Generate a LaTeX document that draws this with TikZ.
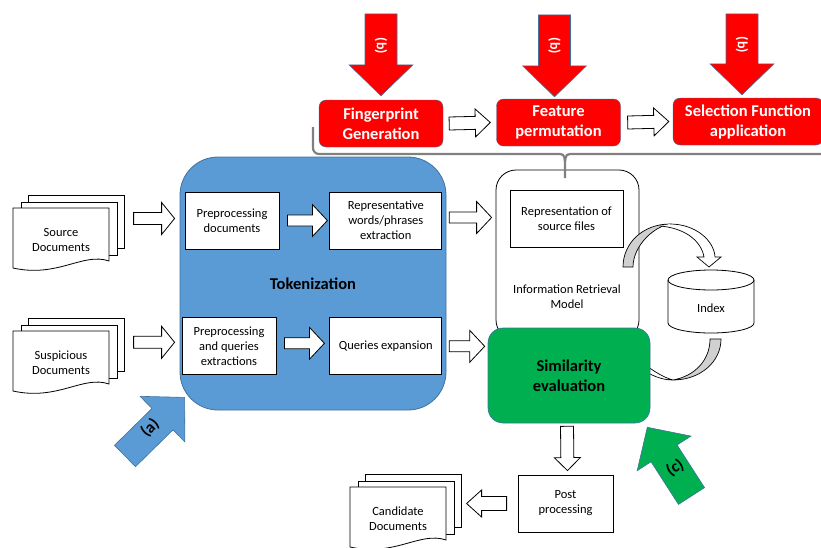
\documentclass[tikz,border=0pt]{standalone}
\usepackage{fontspec}
\setmainfont{Carlito}
\usepackage{tikz}
\usetikzlibrary{positioning,calc}
\definecolor{tokblue}{RGB}{91,155,213}
\definecolor{edgeblue}{RGB}{65,113,156}
\definecolor{simgreen}{RGB}{0,176,80}
\definecolor{ribbongray}{RGB}{208,208,208}
\definecolor{bracegray}{RGB}{128,128,128}
\newcommand{\txt}{\fontsize{12.5}{15}\selectfont}
\newcommand{\bigtxt}{\bfseries\fontsize{16.5}{20}\selectfont}
% block arrow: [style]{from}{to}{shaft half width}{head half width}{head length}
\newcommand{\barrow}[6][blkar]{%
  \coordinate (ba) at #2; \coordinate (bb) at #3;
  \coordinate (bh) at ($(bb)!#6!(ba)$);
  \draw[#1] ($(ba)!#4!90:(bb)$) -- ($(bh)!#4!90:(bb)$) -- ($(bh)!#5!90:(bb)$) -- (bb)
    -- ($(bh)!#5!-90:(bb)$) -- ($(bh)!#4!-90:(bb)$) -- ($(ba)!#4!-90:(bb)$) -- cycle;}
% stack of three pages with a label: {name}{(centre)}{text}
\newcommand{\docstack}[3]{%
  \begin{scope}[shift={#2}]
    \draw[page] (-33,-45) rectangle (63,8);
    \draw[page] (-40,-38) rectangle (56,15);
    \draw[page] (-48,-32) -- (48,-32) -- (48,21) .. controls (22,12) and (-3,38) .. (-48,28) -- cycle;
  \end{scope}
  \node[doctext] (#1) at #2 {#3};}
\tikzset{
  redbox/.style ={draw=edgeblue,fill=red,rounded corners=7pt,text=white,font=\bigtxt,align=center,minimum height=47pt,inner sep=2pt},
  wbox/.style   ={draw,fill=white,align=center,font=\txt,minimum height=57pt,inner sep=2pt,line width=0.8pt},
  page/.style   ={draw,fill=white,line width=0.8pt},
  doctext/.style={align=center,font=\txt},
  blkar/.style  ={draw,fill=white,line width=0.8pt},
  bigar/.style  ={draw=edgeblue,line width=0.6pt},
  ribbon/.style ={draw,line width=0.7pt},
  curlybrace/.style={draw=bracegray,line width=2.2pt},
  blab/.style   ={font=\bfseries\fontsize{14}{16}\selectfont,text=white,rotate=-90},
}
\begin{document}
\begin{tikzpicture}[x=1pt,y=-1pt]
\useasboundingbox (0,0) rectangle (821,547);
% red pipeline
\node[redbox,minimum width=124pt] (fpg) at (381,123.5) {Fingerprint\\Generation};
\node[redbox,minimum width=124pt] (fpm) at (558.5,122.5) {Feature\\permutation};
\node[redbox,minimum width=150pt] (sel) at (748,121.5) {Selection Function\\application};
\barrow[bigar,fill=red]{($(fpg.north)+(0,-86)$)}{($(fpg.north)+(0,-4)$)}{16pt}{32pt}{31pt}
\barrow[bigar,fill=red]{($(fpm.north)+(-4,-84)$)}{($(fpm.north)+(-4,-2)$)}{16pt}{32pt}{31pt}
\barrow[bigar,fill=red]{($(sel.north)+(-6,-84)$)}{($(sel.north)+(-6,-3)$)}{16pt}{32pt}{31pt}
\node[blab] (bfpg) at ($(fpg.north)+(0,-54)$) {(b)};
\node[blab] (bfpm) at ($(fpm.north)+(-4,-53)$) {(b)};
\node[blab] (bsel) at ($(sel.north)+(-6,-53)$) {(b)};
\barrow{($(fpg.east)+(6,0)$)}{($(fpm.west)+(-6,0)$)}{6.5pt}{14pt}{15pt}
\barrow{($(fpm.east)+(7,0)$)}{($(sel.west)+(-4,0)$)}{6.5pt}{14pt}{15pt}

% tokenization
\node[draw=edgeblue,fill=tokblue,rounded corners=38pt,minimum width=266pt,minimum height=253pt,font=\bigtxt,line width=0.8pt] (tok) at (313,283.5) {Tokenization};
\node[wbox,minimum width=94pt] (pdoc) at (232,220.5) {Preprocessing\\documents};
\node[wbox,minimum width=112pt,right=50pt of pdoc] (repr) {Representative\\words/phrases\\extraction};
\node[wbox,minimum width=112pt,below=68pt of repr] (qexp) {Queries expansion};
\node[wbox,minimum width=94pt,left=53pt of qexp] (pque) {Preprocessing\\and queries\\extractions};
\barrow{($(pdoc.east)+(8,0)$)}{($(repr.west)+(-2,0)$)}{5.5pt}{16pt}{15pt}
\barrow{($(pque.east)+(8,-3)$)}{($(qexp.west)+(-5,-3)$)}{5.5pt}{16pt}{15pt}

% documents
\docstack{srcdoc}{(61,240)}{Source\\Documents}
\docstack{susdoc}{(61,363)}{Suspicious\\Documents}
\docstack{canddoc}{(398,519)}{Candidate\\Documents}
\barrow{($(tok.west |- pdoc)+(-46,-2)$)}{($(tok.west |- pdoc)+(-5,-2)$)}{6pt}{16pt}{13pt}
\barrow{($(tok.west |- pque)+(-46,-4)$)}{($(tok.west |- pque)+(-5,-4)$)}{6pt}{16pt}{13pt}

% information retrieval model
\node[draw,rounded corners=20pt,minimum width=143pt,minimum height=170pt,line width=0.8pt] (irm) at (567.5,255) {};
\node[wbox,minimum width=113pt] (rsrc) at (566.5,218.5) {Representation of\\source files};
\node[doctext] (irmlabel) at (567,297) {Information Retrieval\\Model};
\draw[curlybrace,rounded corners=6pt] (313,127) -- (313,154) -- (556,154);
\draw[curlybrace] (556,154) .. controls (564,154) .. (565,162) -- (565,178)
  (565,162) .. controls (566,154) .. (574,154) -- (830,154);
\barrow{($(repr.east)+(7,-3)$)}{($(irm.west |- repr)+(-4,-3)$)}{5.5pt}{16pt}{15pt}

% index and curved arrows
\draw[ribbon,fill=ribbongray] (623,267) .. controls (623,243) and (643,224) .. (670,224)
  .. controls (655,226) and (633,245) .. (633,267) -- cycle;
\draw[ribbon,fill=white] (670,224) .. controls (695,224) and (714,240) .. (715,257) -- (721,257)
  -- (709,267) -- (697,257) -- (704,257) .. controls (701,240) and (684,228) .. (660,226);
\draw[ribbon,fill=white] (673,380) .. controls (662,380) and (652,376) .. (640,368) -- (640,361)
  .. controls (652,370) and (662,377) .. (673,380);
\draw[ribbon,fill=ribbongray] (710,339) -- (721,339) .. controls (721,362) and (700,380) .. (673,380)
  .. controls (695,376) and (710,360) .. (710,339) -- cycle;
\node[doctext] (index) at (711,308) {Index};
\draw[line width=0.8pt] ($(index)+(-43,-28)$) -- ($(index)+(-43,15)$)
  arc[start angle=180,end angle=360,x radius=43pt,y radius=10pt] -- ($(index)+(43,-28)$);
\draw[line width=0.8pt] ($(index)+(0,-28)$) ellipse[x radius=43pt,y radius=10pt];

% similarity and output
\node[draw=edgeblue,fill=simgreen,rounded corners=15pt,minimum width=162pt,minimum height=95pt,font=\bfseries\fontsize{16.5}{20}\selectfont,align=center,line width=0.6pt] (sim) at (569,375.5) {Similarity\\evaluation};
\barrow{($(qexp.east)+(7,0)$)}{($(sim.west |- qexp)+(-3,0)$)}{5.5pt}{16pt}{15pt}
\node[wbox,minimum width=95pt] (post) at (565.5,503.5) {Post\\processing};
\barrow{($(sim.south)+(-2,3)$)}{($(post.north)+(2,-4)$)}{6.5pt}{13pt}{13pt}
\barrow{($(post.west)+(-11,0)$)}{($(post.west)+(-51,0)$)}{7pt}{13.5pt}{15pt}

% pointers (a) and (c)
\coordinate (atail) at (125,456);
\coordinate (atip) at ($(tok.south west)+(5,-13)$);
\barrow[bigar,fill=tokblue]{(atail)}{(atip)}{15pt}{32pt}{31pt}
\node[font=\bigtxt,rotate=45] (alabel) at (150,428) {(a)};
\coordinate (ctail) at (691.5,496);
\coordinate (ctip) at ($(sim.south east)+(-3,4)$);
\barrow[bigar,fill=simgreen]{(ctail)}{(ctip)}{15.5pt}{32pt}{31pt}
\node[font=\bigtxt,rotate=32] (clabel) at (675,468) {(c)};
\end{tikzpicture}
\end{document}
